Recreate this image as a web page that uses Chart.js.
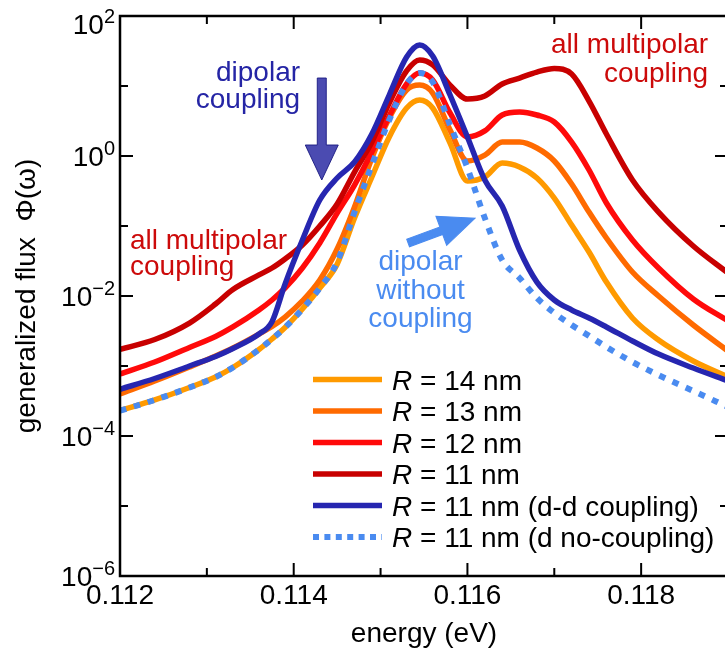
<!DOCTYPE html>
<html>
<head>
<meta charset="utf-8">
<script src="https://cdn.jsdelivr.net/npm/chart.js@4.4.1/dist/chart.umd.min.js"></script>
<style>
  html, body { margin: 0; padding: 0; background: #fff; overflow: hidden; }
  #wrap { width: 725px; height: 657px; overflow: hidden; }
</style>
</head>
<body>
<div id="wrap"><canvas id="chart" width="735" height="657"></canvas></div>
<script>
// photon energy (eV)
const energy = [0.1120, 0.1124, 0.1128, 0.1131, 0.1133, 0.1136, 0.11375, 0.1139, 0.1141, 0.1143,
  0.1145, 0.1147, 0.1149, 0.1151, 0.1153, 0.11545, 0.1156, 0.1158, 0.1160, 0.1162,
  0.1164, 0.1166, 0.1168, 0.1170, 0.1172, 0.1174, 0.1176, 0.1179, 0.1182, 0.1186, 0.1190];

// generalized flux for each case
const fluxR14 = [2.30e-4, 3.27e-4, 4.93e-4, 6.97e-4, 9.52e-4, 1.72e-3, 2.43e-3, 3.55e-3, 6.52e-3, 1.30e-2,
  2.85e-2, 0.13, 0.501, 1.87, 4.85, 6.31, 4.85, 1.53, 0.44, 0.501,
  0.794, 0.697, 0.485, 0.251, 0.103, 4.25e-2, 1.58e-2, 4.85e-3, 2.35e-3, 1.18e-3, 6.97e-4];
const fluxR13 = [3.98e-4, 6.10e-4, 9.68e-4, 1.39e-3, 1.81e-3, 2.86e-3, 3.67e-3, 5.01e-3, 8.49e-3, 1.69e-2,
  4.69e-2, 0.187, 0.936, 3.49, 8.77, 10.3, 7.94, 2.35, 0.849, 1.03,
  1.58, 1.58, 1.3, 0.849, 0.398, 0.158, 6.74e-2, 2.2e-2, 1.0e-2, 3.85e-3, 1.64e-3];
const fluxR12 = [7.69e-4, 1.14e-3, 1.84e-3, 2.64e-3, 3.61e-3, 6.31e-3, 8.77e-3, 1.30e-2, 2.51e-2, 5.72e-2,
  0.153, 0.385, 1.14, 3.73, 10.7, 15.3, 12.2, 4.11, 1.87, 2.28,
  3.85, 4.25, 3.85, 3.06, 1.58, 0.631, 0.213, 6.31e-2, 2.51e-2, 9.06e-3, 4.4e-3];
const fluxR11 = [1.73e-3, 2.39e-3, 4.11e-3, 7.69e-3, 1.24e-2, 2.0e-2, 2.51e-2, 3.38e-2, 5.35e-2, 0.1,
  0.206, 0.59, 1.58, 5.71, 16.4, 23.5, 20.0, 10.3, 6.52, 7.2,
  10.7, 13.0, 15.8, 17.8, 14.8, 6.1, 2.06, 0.454, 0.158, 5.18e-2, 2.13e-2];
const fluxDD = [4.65e-4, 6.63e-4, 1.0e-3, 1.37e-3, 1.78e-3, 2.86e-3, 4.3e-3, 1.48e-2, 6.31e-2, 0.235,
  0.485, 0.821, 2.06, 7.43, 25.9, 38.5, 26.8, 7.43, 1.87, 0.454,
  0.193, 4.54e-2, 1.58e-2, 8.77e-3, 6.31e-3, 4.85e-3, 3.61e-3, 2.28e-3, 1.48e-3, 9.36e-4, 6.11e-4];
const fluxDNo = [2.30e-4, 3.27e-4, 4.93e-4, 6.97e-4, 9.52e-4, 1.72e-3, 2.43e-3, 3.55e-3, 6.52e-3, 1.30e-2,
  3.06e-2, 0.158, 0.743, 3.27, 10.7, 15.3, 11.4, 2.77, 0.674, 0.13,
  3.27e-2, 1.81e-2, 9.36e-3, 5.72e-3, 3.85e-3, 2.69e-3, 1.87e-3, 1.14e-3, 7.43e-4, 4.4e-4, 2.6e-4];

const seriesLabels = ['R = 14 nm', 'R = 13 nm', 'R = 12 nm', 'R = 11 nm',
  'R = 11 nm (d-d coupling)', 'R = 11 nm (d no-coupling)'];

const xTickValues = [0.112, 0.113, 0.114, 0.115, 0.116, 0.117, 0.118, 0.119];
const xTickLabels = ['0.112', '', '0.114', '', '0.116', '', '0.118', ''];
const yTickExponents = [2, 1, 0, -1, -2, -3, -4, -5, -6];
const yLabelExponents = [2, 0, -2, -4, -6];

const FONT = "'Liberation Sans', Arial, Helvetica, sans-serif";
Chart.defaults.font.family = FONT;
Chart.defaults.color = '#000';

const pts = (ys) => energy.map((e, i) => ({ x: e, y: ys[i] }));

function line(label, ys, color, order, dash) {
  return {
    label: label,
    data: pts(ys),
    borderColor: color,
    backgroundColor: color,
    borderWidth: dash ? 6 : 5.5,
    borderDash: dash || [],
    borderCapStyle: 'butt',
    pointRadius: 0,
    fill: false,
    cubicInterpolationMode: 'monotone',
    order: order
  };
}

function drawArrow(ctx, x0, y0, x1, y1, shaftW, headL, headW) {
  const ang = Math.atan2(y1 - y0, x1 - x0);
  const len = Math.hypot(x1 - x0, y1 - y0);
  ctx.save();
  ctx.translate(x0, y0);
  ctx.rotate(ang);
  ctx.beginPath();
  ctx.moveTo(0, -shaftW / 2);
  ctx.lineTo(len - headL, -shaftW / 2);
  ctx.lineTo(len - headL, -headW / 2);
  ctx.lineTo(len, 0);
  ctx.lineTo(len - headL, headW / 2);
  ctx.lineTo(len - headL, shaftW / 2);
  ctx.lineTo(0, shaftW / 2);
  ctx.closePath();
  ctx.fill();
  ctx.stroke();
  ctx.restore();
}

function textBlock(ctx, lines, x, y, align, gap, color) {
  ctx.fillStyle = color;
  ctx.textAlign = align;
  ctx.textBaseline = 'alphabetic';
  ctx.font = '28px ' + FONT;
  lines.forEach((t, i) => ctx.fillText(t, x, y + i * gap));
}

const decorations = {
  id: 'decorations',
  afterDraw(chart) {
    const { ctx, chartArea: a, scales: { x, y } } = chart;
    const at = (e, v) => [x.getPixelForValue(e), y.getPixelForValue(v)];
    ctx.save();

    // inward ticks
    ctx.strokeStyle = '#000';
    ctx.lineWidth = 2;
    ctx.beginPath();
    xTickValues.forEach((v, i) => {
      const px = x.getPixelForValue(v);
      const len = xTickLabels[i] ? 13 : 8;
      ctx.moveTo(px, a.bottom); ctx.lineTo(px, a.bottom - len);
      ctx.moveTo(px, a.top); ctx.lineTo(px, a.top + len);
    });
    yTickExponents.forEach((e) => {
      const py = y.getPixelForValue(Math.pow(10, e));
      const len = e % 2 === 0 ? 13 : 8;
      ctx.moveTo(a.left, py); ctx.lineTo(a.left + len, py);
      ctx.moveTo(a.right, py); ctx.lineTo(a.right - len, py);
    });
    ctx.stroke();

    // frame
    ctx.lineWidth = 2.5;
    ctx.strokeRect(a.left, a.top, a.right - a.left, a.bottom - a.top);

    // y tick labels with superscripts
    ctx.fillStyle = '#000';
    ctx.textBaseline = 'alphabetic';
    ctx.textAlign = 'left';
    yLabelExponents.forEach((e) => {
      let py = y.getPixelForValue(Math.pow(10, e));
      py = Math.max(py, 24);
      const sup = e < 0 ? '\u2212' + (-e) : String(e);
      ctx.font = '20px ' + FONT;
      const ws = ctx.measureText(sup).width;
      ctx.font = '28px ' + FONT;
      const wb = ctx.measureText('10').width;
      const right = a.left - 5;
      ctx.fillText('10', right - ws - wb, py + 10);
      ctx.font = '20px ' + FONT;
      ctx.fillText(sup, right - ws, py - 1);
    });

    // legend
    const dsets = chart.data.datasets;
    dsets.forEach((ds, i) => {
      const ly = 379.5 + i * 31.5;
      ctx.strokeStyle = ds.borderColor;
      ctx.lineWidth = ds.borderDash.length ? 6 : 5.5;
      ctx.setLineDash(ds.borderDash.length ? [6, 5.4] : []);
      ctx.beginPath();
      ctx.moveTo(313, ly); ctx.lineTo(382, ly);
      ctx.stroke();
      ctx.setLineDash([]);
      ctx.fillStyle = '#000';
      ctx.textAlign = 'left';
      ctx.font = 'italic 28px ' + FONT;
      ctx.fillText(ds.label.charAt(0), 392, ly + 10);
      const wr = ctx.measureText(ds.label.charAt(0)).width;
      ctx.font = '28px ' + FONT;
      ctx.fillText(ds.label.slice(1), 392 + wr, ly + 10);
    });

    // arrows
    ctx.lineWidth = 1;
    ctx.fillStyle = 'rgba(35, 35, 160, 0.82)';
    ctx.strokeStyle = 'rgba(25, 25, 130, 0.9)';
    const b0 = at(0.114323, 13.0), b1 = at(0.114323, 0.454);
    drawArrow(ctx, b0[0], b0[1], b1[0], b1[1], 9, 35, 33);
    ctx.fillStyle = '#4a8bf0';
    ctx.strokeStyle = '#4a8bf0';
    const c0 = at(0.115317, 0.0572), c1 = at(0.116088, 0.129);
    drawArrow(ctx, c0[0], c0[1], c1[0], c1[1], 8, 36, 31);

    // annotations
    let p = at(0.114073, 11.8);
    textBlock(ctx, ['dipolar', 'coupling'], p[0], p[1], 'right', 27, '#2525a5');
    p = at(0.112115, 0.0469);
    textBlock(ctx, ['all multipolar', 'coupling'], p[0], p[1], 'left', 26, '#cc0a0a');
    p = at(0.118772, 29.6);
    textBlock(ctx, ['all multipolar', 'coupling'], p[0], p[1], 'right', 29, '#cc0a0a');
    p = at(0.11546, 0.0235);
    textBlock(ctx, ['dipolar', 'without', 'coupling'], p[0], p[1], 'center', 28.5, '#4a8bf0');

    ctx.restore();
  }
};

const ctx = document.getElementById('chart').getContext('2d');
const chart = new Chart(ctx, {
  type: 'line',
  data: {
    datasets: [
      line(seriesLabels[0], fluxR14, '#ff9a00', 5),
      line(seriesLabels[1], fluxR13, '#ff6a00', 4),
      line(seriesLabels[2], fluxR12, '#ff0a0a', 3),
      line(seriesLabels[3], fluxR11, '#c80000', 2),
      line(seriesLabels[4], fluxDD, '#2626b0', 1),
      line(seriesLabels[5], fluxDNo, '#4a8bf0', 0, [6.5, 8])
    ]
  },
  options: {
    responsive: false,
    animation: false,
    devicePixelRatio: 1,
    layout: { padding: { top: 16, right: 7, left: 0, bottom: 0 } },
    plugins: {
      legend: { display: false },
      tooltip: { enabled: false }
    },
    scales: {
      x: {
        type: 'linear',
        position: 'bottom',
        min: 0.112,
        max: 0.119,
        afterFit: (scale) => { scale.height = 81; },
        afterBuildTicks: (scale) => { scale.ticks = xTickValues.map((v) => ({ value: v })); },
        grid: { display: false, drawTicks: false },
        border: { display: false },
        ticks: {
          autoSkip: false,
          maxRotation: 0,
          padding: 3,
          font: { size: 28 },
          color: '#000',
          callback: (v, i) => xTickLabels[i]
        },
        title: {
          display: true,
          text: 'energy (eV)',
          font: { size: 28 },
          color: '#000',
          padding: { top: 0, bottom: 6 }
        }
      },
      y: {
        type: 'logarithmic',
        min: 1e-6,
        max: 1e2,
        afterFit: (scale) => { scale.width = 120; },
        grid: { display: false, drawTicks: false },
        border: { display: false },
        ticks: { display: false },
        title: {
          display: true,
          text: 'generalized flux  \u03A6(\u03C9)',
          font: { size: 28 },
          color: '#000',
          padding: { top: 10, bottom: 0 }
        }
      }
    }
  },
  plugins: [decorations]
});
</script>
</body>
</html>
